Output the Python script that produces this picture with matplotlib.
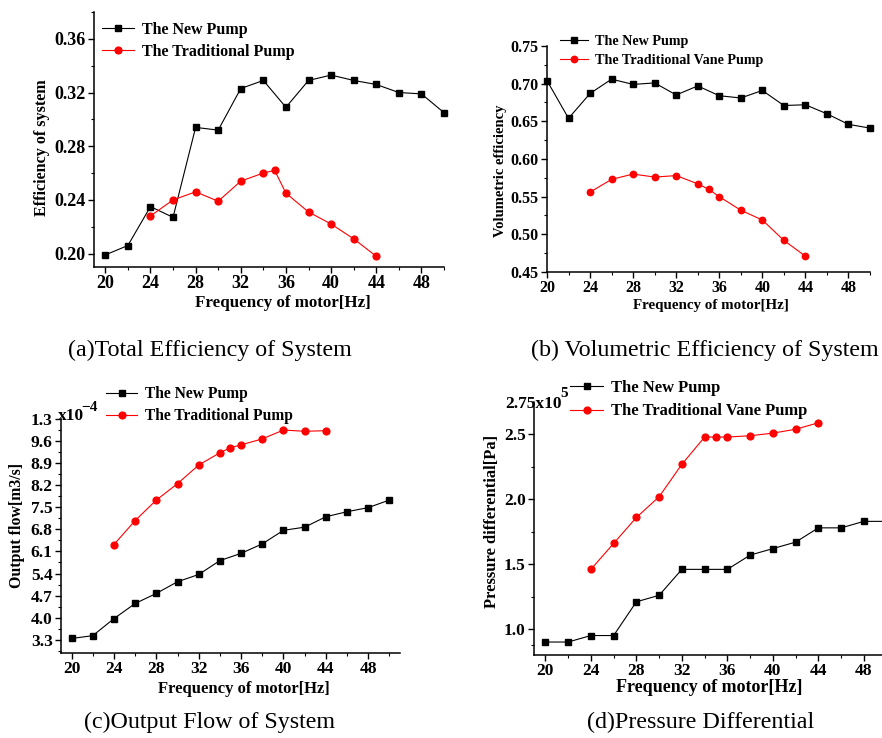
import matplotlib
matplotlib.use('Agg')
import matplotlib.pyplot as plt
from matplotlib.ticker import MultipleLocator, FixedLocator

plt.rcParams['font.family'] = ['Liberation Serif', 'DejaVu Serif']
plt.rcParams['font.weight'] = 'bold'

# ---- データ ----
freq_new = [20, 22, 24, 26, 28, 30, 32, 34, 36, 38, 40, 42, 44, 46, 48, 50]
freq_old = [24, 26, 28, 30, 32, 34, 35, 36, 38, 40, 42, 44]

eff_new = [0.199, 0.206, 0.235, 0.227, 0.294, 0.292, 0.323, 0.329, 0.309, 0.329,
           0.333, 0.329, 0.326, 0.320, 0.319, 0.305]
eff_old = [0.228, 0.240, 0.246, 0.239, 0.254, 0.260, 0.262, 0.245, 0.231, 0.222, 0.211, 0.198]

vol_new = [0.704, 0.654, 0.687, 0.706, 0.699, 0.701, 0.685, 0.697, 0.684, 0.681,
           0.691, 0.671, 0.672, 0.660, 0.646, 0.641]
vol_old = [0.556, 0.573, 0.580, 0.576, 0.578, 0.567, 0.560, 0.550, 0.532, 0.519, 0.492, 0.471]

flow_new = [3.34, 3.43, 3.97, 4.45, 4.77, 5.14, 5.37, 5.81, 6.04, 6.34,
            6.77, 6.87, 7.20, 7.36, 7.49, 7.73]
flow_old = [6.32, 7.08, 7.73, 8.25, 8.84, 9.23, 9.39, 9.48, 9.67, 9.95, 9.91, 9.93]

pres_new = [0.90, 0.90, 0.95, 0.95, 1.21, 1.26, 1.46, 1.46, 1.46, 1.57,
            1.62, 1.67, 1.78, 1.78, 1.83, 1.83]
pres_old = [1.46, 1.66, 1.86, 2.02, 2.27, 2.48, 2.48, 2.48, 2.49, 2.51, 2.54, 2.59]

flow_ticks = [3.3, 4.0, 4.7, 5.4, 6.1, 6.8, 7.5, 8.2, 8.9, 9.6, 10.3]
flow_ticklabels = ['3.3', '4.0', '4.7', '5.4', '6.1', '6.8', '7.5', '8.2', '8.9', '9.6', '1.3']

W, H = 882, 738
fig = plt.figure(figsize=(W / 100, H / 100), dpi=100)


def px_axes(left, top, right, bottom):
    # ピクセル座標から軸を作成
    return fig.add_axes([left / W, 1 - bottom / H, (right - left) / W, (bottom - top) / H])


def style(ax, fs):
    for s in ['top', 'right']:
        ax.spines[s].set_visible(False)
    for s in ['left', 'bottom']:
        ax.spines[s].set_linewidth(1.1)
    ax.tick_params(which='major', direction='out', length=4, width=1, labelsize=fs, pad=2)
    ax.tick_params(which='minor', direction='out', length=2.5, width=0.8)
    ax.xaxis.set_major_locator(MultipleLocator(4))
    ax.xaxis.set_minor_locator(MultipleLocator(2))
    for t in ax.get_xticklabels() + ax.get_yticklabels():
        t.set_fontweight('bold')


def draw(ax, x1, y1, x2, y2, l1, l2, ms=4.3):
    a, = ax.plot(x1, y1, color='black', lw=0.8, marker='s', ms=ms, label=l1, clip_on=False)
    b, = ax.plot(x2, y2, color='#ff0000', lw=0.8, marker='o', ms=ms + 0.6, label=l2, clip_on=False)
    return a, b


def legend(ax, x, y, fs, sp=0.3, hl=2.0):
    ax.legend(loc='upper left', bbox_to_anchor=(x / W, 1 - y / H), bbox_transform=fig.transFigure,
              frameon=False, handlelength=hl, handletextpad=0.5,
              labelspacing=sp, borderpad=0, borderaxespad=0,
              prop={'weight': 'bold', 'size': fs})


# (a) システム総合効率
ax = px_axes(94, 12, 444, 267)
draw(ax, freq_new, eff_new, freq_old, eff_old, 'The New Pump', 'The Traditional Pump')
ax.set_xlim(19, 50)
ax.set_ylim(0.19, 0.38)
ax.yaxis.set_major_locator(FixedLocator([0.20, 0.24, 0.28, 0.32, 0.36]))
ax.yaxis.set_minor_locator(FixedLocator([0.22, 0.26, 0.30, 0.34, 0.38]))
ax.yaxis.set_major_formatter(plt.FormatStrFormatter('%.2f'))
style(ax, 13)
legend(ax, 102, 22, 11.5, sp=0.35)
fig.text(283 / W, 1 - 303 / H, 'Frequency of motor[Hz]', ha='center', va='center', fontsize=12.2, fontweight='bold')
fig.text(42 / W, 1 - 148 / H, 'Efficiency of system', ha='center', va='center', rotation=90,
         fontsize=11.6, fontweight='bold')

# (b) 容積効率
ax = px_axes(547, 46, 870, 272)
draw(ax, freq_new, vol_new, freq_old, vol_old, 'The New Pump', 'The Traditional Vane Pump', ms=4.0)
ax.set_xlim(20, 50)
ax.set_ylim(0.45, 0.75)
ax.yaxis.set_major_locator(MultipleLocator(0.05))
ax.yaxis.set_minor_locator(MultipleLocator(0.025))
ax.yaxis.set_major_formatter(plt.FormatStrFormatter('%.2f'))
style(ax, 11.5)
legend(ax, 560, 35, 10.2, sp=0.45)
fig.text(711 / W, 1 - 305 / H, 'Frequency of motor[Hz]', ha='center', va='center', fontsize=10.8, fontweight='bold')
fig.text(501 / W, 1 - 171 / H, 'Volumetric efficiency', ha='center', va='center', rotation=90,
         fontsize=10.5, fontweight='bold')

# (c) 出力流量
ax = px_axes(61, 419, 400, 653)
draw(ax, freq_new, flow_new, freq_old, flow_old, 'The New Pump', 'The Traditional Pump')
ax.set_xlim(19, 51)
ax.set_ylim(2.88, 10.3)
ax.yaxis.set_major_locator(FixedLocator(flow_ticks))
ax.yaxis.set_minor_locator(FixedLocator([v + 0.35 for v in flow_ticks[:-1]] + [2.95]))
ax.set_yticklabels(flow_ticklabels)
style(ax, 12.5)
legend(ax, 106, 386, 11.2, sp=0.4)
fig.text(58 / W, 1 - 420 / H, 'x10', ha='left', va='baseline', fontsize=12.5, fontweight='bold')
fig.text(81 / W, 1 - 411 / H, '\u22124', ha='left', va='baseline', fontsize=11, fontweight='bold')
fig.text(244 / W, 1 - 689 / H, 'Frequency of motor[Hz]', ha='center', va='center', fontsize=12, fontweight='bold')
fig.text(17 / W, 1 - 526 / H, 'Output flow[m3/s]', ha='center', va='center', rotation=90,
         fontsize=11.4, fontweight='bold')

# (d) 圧力差
ax = px_axes(534, 402, 898, 655)
draw(ax, freq_new, pres_new, freq_old, pres_old, 'The New Pump', 'The Traditional Vane Pump')
ax.set_xlim(19, 51)
ax.set_ylim(0.8, 2.75)
ax.yaxis.set_major_locator(FixedLocator([1.0, 1.5, 2.0, 2.5]))
ax.yaxis.set_minor_locator(FixedLocator([0.875, 1.25, 1.75, 2.25]))
ax.yaxis.set_major_formatter(plt.FormatStrFormatter('%.1f'))
style(ax, 12.5)
legend(ax, 570, 380, 11.9, sp=0.45)
fig.text(505 / W, 1 - 408 / H, '2.75x10', ha='left', va='baseline', fontsize=12.5, fontweight='bold')
fig.text(560 / W, 1 - 397 / H, '5', ha='left', va='baseline', fontsize=11, fontweight='bold')
fig.text(709 / W, 1 - 687 / H, 'Frequency of motor[Hz]', ha='center', va='center', fontsize=13, fontweight='bold')
fig.text(492 / W, 1 - 521 / H, 'Pressure differential[Pa]', ha='center', va='center', rotation=90,
         fontsize=12, fontweight='bold')

# キャプション
cap = dict(ha='center', va='center', fontsize=17.3, fontweight='normal')
fig.text(210 / W, 1 - 350 / H, '(a)Total Efficiency of System', **cap)
fig.text(705 / W, 1 - 350 / H, '(b) Volumetric Efficiency of System', **cap)
fig.text(210 / W, 1 - 722 / H, '(c)Output Flow of System', **cap)
fig.text(701 / W, 1 - 722 / H, '(d)Pressure Differential', **cap)

fig.savefig('out.png', dpi=100)
